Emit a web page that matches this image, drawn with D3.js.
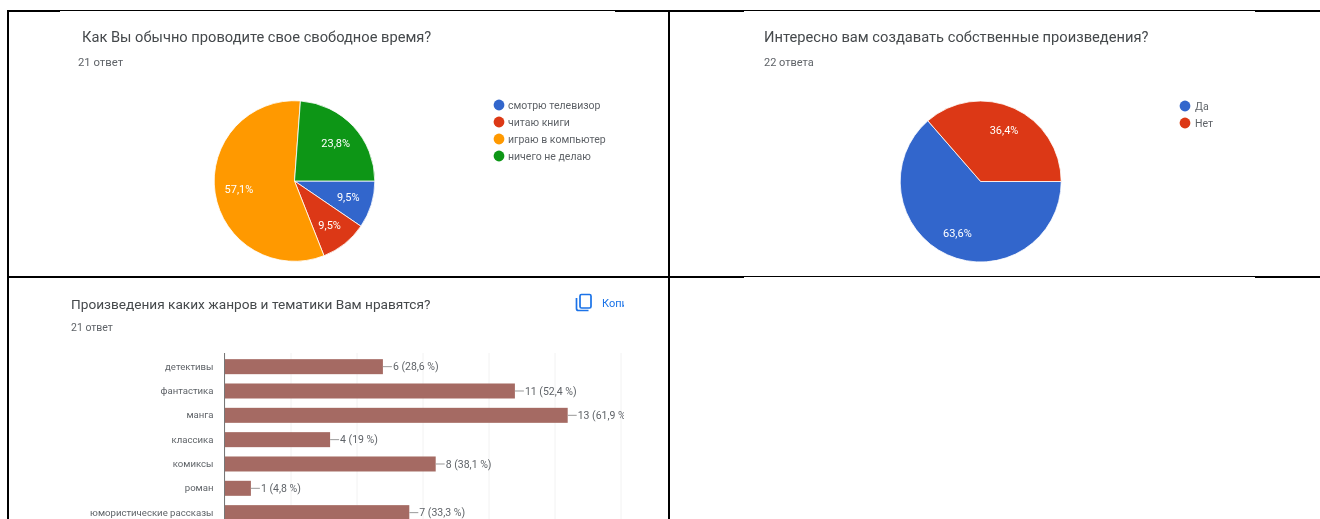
<!DOCTYPE html>
<html>
<head>
<meta charset="utf-8">
<script src="https://cdn.jsdelivr.net/npm/d3@7"></script>
<style>
    html, body { margin: 0; padding: 0; background: #fff; }
    svg { display: block; }
    text { font-family: Roboto, "Noto Sans", sans-serif; }
</style>
</head>
<body>
<div id="chart"></div>
<script>
const leisureLabels = ["смотрю телевизор", "читаю книги", "играю в компьютер", "ничего не делаю"];
const leisureValues = [9.5, 9.5, 57.1, 23.8];
const leisureColors = ["#3366cc", "#dc3912", "#ff9900", "#109618"];

const createLabels = ["Да", "Нет"];
const createValues = [63.6, 36.4];
const createColors = ["#3366cc", "#dc3912"];

const genreLabels = ["детективы", "фантастика", "манга", "классика", "комиксы", "роман", "юмористические рассказы"];
const genreCounts = [6, 11, 13, 4, 8, 1, 7];
const genrePercents = ["28,6", "52,4", "61,9", "19", "38,1", "4,8", "33,3"];
const genreTicks = [0, 2.5, 5, 7.5, 10, 12.5, 15];

const width = 1320;
const height = 519;
const titleColor = "#45494c";
const smallColor = "#5f6368";

const svg = d3.select("#chart").append("svg")
    .attr("width", width)
    .attr("height", height)
    .attr("viewBox", [0, 0, width, height]);

// the source is a scaled screenshot, so everything but the table rules is a bit soft
const defs = svg.append("defs");
defs.append("filter")
    .attr("id", "soft")
    .attr("filterUnits", "userSpaceOnUse")
    .attr("x", 0).attr("y", 0).attr("width", width).attr("height", height)
    .append("feGaussianBlur")
    .attr("stdDeviation", 0.45);
defs.append("clipPath")
    .attr("id", "cardClip")
    .append("rect")
    .attr("x", 0).attr("y", 278)
    .attr("width", 624).attr("height", height - 278);

const content = svg.append("g").attr("filter", "url(#soft)");

function heading(cfg) {
    content.append("text")
        .attr("x", cfg.x).attr("y", 42)
        .attr("font-size", cfg.titleSize)
        .attr("fill", titleColor)
        .text(cfg.title);
    content.append("text")
        .attr("x", cfg.subX).attr("y", 66)
        .attr("font-size", cfg.subSize)
        .attr("fill", smallColor)
        .text(cfg.sub);
}

function pieChart(cfg) {
    const g = content.append("g").attr("transform", `translate(${cfg.cx},${cfg.cy})`);
    const pie = d3.pie().sort(null)
        .startAngle(Math.PI / 2)
        .endAngle(Math.PI / 2 + 2 * Math.PI);
    const arcs = pie(cfg.values);
    const arc = d3.arc().innerRadius(0).outerRadius(cfg.r);
    const labelArc = d3.arc().innerRadius(cfg.r * 0.7).outerRadius(cfg.r * 0.7);

    g.selectAll("path")
        .data(arcs)
        .join("path")
        .attr("d", arc)
        .attr("fill", (d, i) => cfg.colors[i])
        .attr("stroke", "#fff")
        .attr("stroke-width", 0.8);

    g.selectAll("text")
        .data(arcs)
        .join("text")
        .attr("transform", d => `translate(${labelArc.centroid(d)})`)
        .attr("text-anchor", "middle")
        .attr("dy", "0.35em")
        .attr("font-size", 11)
        .attr("fill", "#fff")
        .text(d => d.data.toFixed(1).replace(".", ",") + "%");

    const legend = content.append("g")
        .selectAll("g")
        .data(cfg.labels)
        .join("g")
        .attr("transform", (d, i) => `translate(${cfg.legendX},${cfg.legendY + i * 17})`);
    legend.append("circle")
        .attr("r", 5.4)
        .attr("fill", (d, i) => cfg.colors[i]);
    legend.append("text")
        .attr("x", cfg.legendGap)
        .attr("dy", "0.35em")
        .attr("font-size", 10.5)
        .attr("fill", smallColor)
        .text(d => d);
}

heading({
    x: 82, titleSize: 14.67, title: "Как Вы обычно проводите свое свободное время?",
    subX: 78, subSize: 11.3, sub: "21 ответ"
});
pieChart({
    cx: 294.5, cy: 181, r: 80.3,
    values: leisureValues, labels: leisureLabels, colors: leisureColors,
    legendX: 499, legendY: 105, legendGap: 9
});

heading({
    x: 764, titleSize: 14.69, title: "Интересно вам создавать собственные произведения?",
    subX: 764, subSize: 11, sub: "22 ответа"
});
pieChart({
    cx: 980.7, cy: 181.5, r: 80.5,
    values: createValues, labels: createLabels, colors: createColors,
    legendX: 1185, legendY: 106, legendGap: 10
});

// bottom card, clipped on the right like the source crop
const card = content.append("g").attr("clip-path", "url(#cardClip)");

card.append("text")
    .attr("x", 71).attr("y", 309)
    .attr("font-size", 13.65)
    .attr("fill", titleColor)
    .text("Произведения каких жанров и тематики Вам нравятся?");
card.append("text")
    .attr("x", 71).attr("y", 331)
    .attr("font-size", 10.5)
    .attr("fill", smallColor)
    .text("21 ответ");

const copyIcon = card.append("g")
    .attr("fill", "none")
    .attr("stroke", "#1a73e8")
    .attr("stroke-width", 1.7);
copyIcon.append("rect")
    .attr("x", 580).attr("y", 294.5)
    .attr("width", 11).attr("height", 13.5)
    .attr("rx", 1.5);
copyIcon.append("path").attr("d", "M576.5 298v10.5q0 2 2 2h10");
card.append("text")
    .attr("x", 602).attr("y", 306.5)
    .attr("font-size", 11)
    .attr("fill", "#1a73e8")
    .text("Копировать");

const x = d3.scaleLinear().domain([0, 15]).range([224.5, 620.5]);
const y = d3.scaleBand()
    .domain(genreLabels)
    .range([354.5, 354.5 + 7 * 24.33])
    .paddingInner(0.383)
    .paddingOuter(0.1915);

card.append("g")
    .attr("transform", "translate(0,353)")
    .call(d3.axisBottom(x).tickValues(genreTicks).tickSize(170).tickFormat(""))
    .call(g => g.select(".domain").remove())
    .call(g => g.selectAll("line").attr("stroke", "#f2f2f2"));

card.selectAll("rect.bar")
    .data(genreCounts)
    .join("rect")
    .attr("class", "bar")
    .attr("x", x(0))
    .attr("y", (d, i) => y(genreLabels[i]))
    .attr("width", d => x(d) - x(0))
    .attr("height", y.bandwidth())
    .attr("fill", "#a56b63");

card.selectAll("line.leader")
    .data(genreCounts)
    .join("line")
    .attr("class", "leader")
    .attr("x1", d => x(d))
    .attr("x2", d => x(d) + 9)
    .attr("y1", (d, i) => y(genreLabels[i]) + y.bandwidth() / 2)
    .attr("y2", (d, i) => y(genreLabels[i]) + y.bandwidth() / 2)
    .attr("stroke", "#999");

card.selectAll("text.value")
    .data(genreCounts)
    .join("text")
    .attr("class", "value")
    .attr("x", d => x(d) + 10)
    .attr("y", (d, i) => y(genreLabels[i]) + y.bandwidth() / 2)
    .attr("dy", "0.35em")
    .attr("font-size", 10.5)
    .attr("fill", smallColor)
    .text((d, i) => `${d} (${genrePercents[i]} %)`);

card.append("g")
    .attr("transform", `translate(${x(0)},0)`)
    .call(d3.axisLeft(y).tickSize(0).tickPadding(11))
    .call(g => g.select(".domain").attr("stroke", "#777").attr("d", "M0,353V519"))
    .call(g => g.selectAll("text")
        .attr("font-family", 'Roboto, "Noto Sans", sans-serif')
        .attr("font-size", 9.6)
        .attr("fill", smallColor));

// table rules from the document the charts were pasted into
const rules = [
    [7, 60, 11, 11, 2], [60, 615, 10.5, 10.5, 1], [615, 744, 11, 11, 2],
    [744, 1255, 10.5, 10.5, 1], [1255, 1320, 11, 11, 2],
    [7, 744, 277, 277, 2], [744, 1255, 276.5, 276.5, 1], [1255, 1320, 277, 277, 2],
    [8, 8, 10, 519, 2], [669, 669, 10, 519, 2]
];
svg.append("g")
    .selectAll("line")
    .data(rules)
    .join("line")
    .attr("x1", d => d[0]).attr("x2", d => d[1])
    .attr("y1", d => d[2]).attr("y2", d => d[3])
    .attr("stroke", "#000")
    .attr("stroke-width", d => d[4]);
</script>
</body>
</html>
